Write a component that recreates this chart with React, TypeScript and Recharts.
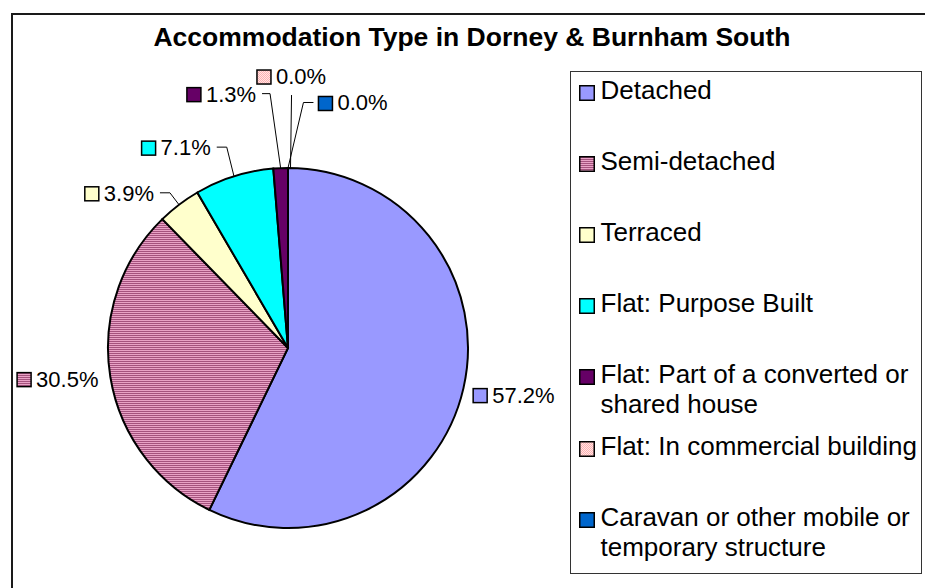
import React from 'react';
import { PieChart, Pie, Cell, Legend } from 'recharts';

const title = 'Accommodation Type in Dorney & Burnham South';
const categories = [
  'Detached',
  'Semi-detached',
  'Terraced',
  'Flat: Purpose Built',
  'Flat: Part of a converted or shared house',
  'Flat: In commercial building',
  'Caravan or other mobile or temporary structure',
];
const shares = [57.2, 30.5, 3.9, 7.1, 1.3, 0.0, 0.0];
const legendLines = [
  ['Detached'],
  ['Semi-detached'],
  ['Terraced'],
  ['Flat: Purpose Built'],
  ['Flat: Part of a converted or', 'shared house'],
  ['Flat: In commercial building'],
  ['Caravan or other mobile or', 'temporary structure'],
];

const fills = ['#9999FF', 'url(#patSemi)', '#FFFFCC', '#00FFFF', '#660066', 'url(#patComm)', '#0066CC'];

// label placement style (radius of elbow, angle nudge, tail length, side)
const labelLayout: any[] = [
  { kind: 'plain', r: 190, side: 'right', dy: 4 },
  { kind: 'plain', r: 192, side: 'left', dy: 0 },
  { kind: 'leader', r: 195, da: 0, tail: 10, side: 'left', fromMid: true },
  { kind: 'leader', r: 210, da: -0.5, tail: 10, side: 'left', fromMid: true },
  { kind: 'leader', r: 255, da: 1.7, tail: 8, side: 'left', fromMid: true },
  { kind: 'above', r: 253, da: -0.8 },
  { kind: 'leader', r: 246, da: -3.6, tail: 10, side: 'right', fromMid: true },
];

const data = categories.map((name, i) => ({ name, value: shares[i] }));

const FONT = '"Liberation Sans", Arial, sans-serif';
const RAD = Math.PI / 180;
const polar = (cx: number, cy: number, r: number, a: number) => [cx + r * Math.cos(-a * RAD), cy + r * Math.sin(-a * RAD)];

const charW: Record<string, number> = { '.': 0.278, '%': 0.889 };
const textWidth = (s: string, size: number) =>
  s.split('').reduce((acc, ch) => acc + (charW[ch] ?? 0.556), 0) * size;

const LSIZE = 22;
const SQ = 14;
const GAP = 5;

const renderLabel = (props: any) => {
  const { cx, cy, midAngle, outerRadius, index, value } = props;
  const L = labelLayout[index];
  const text = Number(value).toFixed(1) + '%';
  const tw = textWidth(text, LSIZE);
  const total = SQ + GAP + tw;
  let left = 0;
  let cyL = 0;
  let path: string | null = null;
  if (L.kind === 'plain') {
    const [ax, ay] = polar(cx, cy, L.r, midAngle);
    cyL = ay + L.dy;
    left = L.side === 'right' ? ax : ax - total;
  } else {
    const a = midAngle + L.da;
    const [sx, sy] = polar(cx, cy, outerRadius, L.fromMid ? midAngle : a);
    const [ex, ey] = polar(cx, cy, L.r, a);
    if (L.kind === 'above') {
      path = `M${sx},${sy}L${ex},${ey}`;
      cyL = ey - 19;
      left = ex - total / 2;
    } else if (L.side === 'left') {
      const tx = ex - L.tail;
      path = `M${sx},${sy}L${ex},${ey}L${tx},${ey}`;
      cyL = ey;
      left = tx - 6 - total;
    } else {
      const tx = ex + L.tail;
      path = `M${sx},${sy}L${ex},${ey}L${tx},${ey}`;
      cyL = ey;
      left = tx + 5;
    }
  }
  return (
    <g key={`lbl-${index}`}>
      {path && <path d={path} fill="none" stroke="#000" strokeWidth={1} />}
      <rect x={left} y={cyL + 1 - SQ / 2} width={SQ} height={SQ} fill={fills[index]} stroke="#000" strokeWidth={1.5} />
      <text x={left + SQ + GAP} y={cyL + 8} fontSize={LSIZE} fontFamily={FONT} fill="#000">
        {text}
      </text>
    </g>
  );
};

const renderLegend = () => (
  <div
    style={{
      boxSizing: 'border-box',
      width: 352,
      height: 503,
      border: '1.5px solid #333',
      background: '#fff',
      position: 'relative',
      fontFamily: FONT,
      fontSize: 26,
      color: '#000',
    }}
  >
    {categories.map((c, i) => (
      <div key={c} style={{ position: 'absolute', left: 7.5, top: 2.5 + i * 71.2, display: 'flex' }}>
        <svg width={16} height={16} style={{ marginTop: 10, marginRight: 6, flex: 'none' }}>
          <rect x={0.75} y={0.75} width={14.5} height={14.5} fill={fills[i]} stroke="#000" strokeWidth={1.5} />
        </svg>
        <div style={{ lineHeight: '30px', whiteSpace: 'nowrap' }}>
          {legendLines[i].map((l) => (
            <div key={l}>{l}</div>
          ))}
        </div>
      </div>
    ))}
  </div>
);

export default function App() {
  return (
    <div style={{ position: 'absolute', left: 0, top: 0, width: 925, height: 588, background: '#fff', overflow: 'hidden' }}>
      <svg width={925} height={588} style={{ position: 'absolute', left: 0, top: 0 }}>
        <path d="M12,600 L12,14 L940,14" fill="none" stroke="#1a1a1a" strokeWidth={2} />
        <text x={472} y={46} textAnchor="middle" fontSize={26.5} fontWeight="bold" fontFamily={FONT} fill="#000">
          {title}
        </text>
      </svg>
      <div style={{ position: 'absolute', left: 0, top: 0 }}>
        <PieChart width={925} height={588} margin={{ top: 0, right: 0, bottom: 0, left: 0 }}>
          <defs>
            <pattern id="patSemi" patternUnits="userSpaceOnUse" width={4} height={2}>
              <rect x={0} y={0} width={4} height={2} fill="#E9A2C6" />
              <rect x={0} y={1} width={4} height={1} fill="#A5527E" />
            </pattern>
            <pattern id="patComm" patternUnits="userSpaceOnUse" width={2} height={2}>
              <rect x={0} y={0} width={2} height={2} fill="#FFE6E6" />
              <rect x={0} y={0} width={1} height={1} fill="#FFB0B0" />
              <rect x={1} y={1} width={1} height={1} fill="#FFB0B0" />
            </pattern>
          </defs>
          <Pie
            data={data}
            dataKey="value"
            nameKey="name"
            cx={288}
            cy={348}
            outerRadius={180}
            startAngle={90}
            endAngle={-270}
            stroke="#000"
            strokeWidth={2}
            label={renderLabel}
            labelLine={false}
            isAnimationActive={false}
          >
            {data.map((d, i) => (
              <Cell key={d.name} fill={fills[i]} />
            ))}
          </Pie>
          <Legend
            layout="vertical"
            align="right"
            verticalAlign="top"
            width={352}
            height={503}
            wrapperStyle={{ left: 570, top: 71, width: 352, height: 503 }}
            content={renderLegend}
          />
        </PieChart>
      </div>
    </div>
  );
}
